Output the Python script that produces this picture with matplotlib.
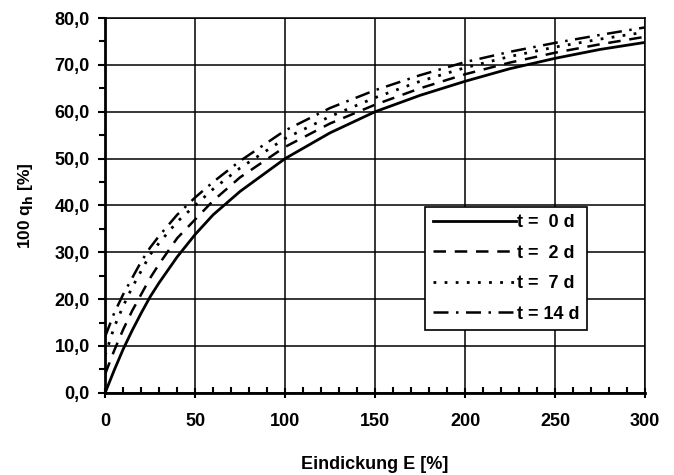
import matplotlib
matplotlib.use("Agg")
import matplotlib.pyplot as plt
from matplotlib.ticker import MultipleLocator, FuncFormatter

plt.rcParams['font.family'] = ['Liberation Sans', 'DejaVu Sans']

E = [0, 5, 10, 15, 20, 25, 30, 40, 50, 60, 75, 100, 125, 150, 175, 200, 225, 250, 275, 300]
q_t0 = [0, 4.8, 9.3, 13.3, 17.0, 20.5, 23.5, 29.0, 33.8, 38.0, 43.0, 50.0, 55.5, 60.0, 63.5, 66.5, 69.2, 71.4, 73.3, 74.8]
q_t2 = [4.0, 9.0, 13.5, 17.5, 21.0, 24.5, 27.5, 33.0, 37.0, 41.0, 46.0, 52.5, 57.5, 61.5, 65.0, 68.0, 70.5, 72.6, 74.4, 76.0]
q_t7 = [8.0, 14.0, 18.5, 22.5, 26.0, 29.5, 32.0, 36.5, 40.0, 43.5, 48.0, 54.3, 59.0, 63.0, 66.5, 69.4, 71.8, 73.8, 75.5, 77.0]
q_t14 = [12.0, 17.0, 21.0, 24.5, 28.0, 31.0, 33.5, 38.0, 41.7, 45.0, 49.5, 56.0, 60.8, 64.6, 67.8, 70.6, 72.8, 74.7, 76.4, 78.0]
labels = ["t =  0 d", "t =  2 d", "t =  7 d", "t = 14 d"]

fig = plt.figure(figsize=(6.74, 4.75), dpi=100)
ax = fig.add_axes([0.156, 0.173, 0.801, 0.789])

styles = [
    dict(linestyle='-', linewidth=2.0),
    dict(linestyle=(0, (5, 3.5)), linewidth=1.8),
    dict(linestyle=(0, (1, 3)), linewidth=2.0),
    dict(linestyle=(0, (6, 3, 1, 3)), linewidth=1.8),
]
for q, lab, st in zip([q_t0, q_t2, q_t7, q_t14], labels, styles):
    ax.plot(E, q, color='black', label=lab, **st)

ax.set_xlim(0, 300)
ax.set_ylim(0, 80)
ax.xaxis.set_major_locator(MultipleLocator(50))
ax.xaxis.set_minor_locator(MultipleLocator(10))
ax.yaxis.set_major_locator(MultipleLocator(10))
ax.yaxis.set_minor_locator(MultipleLocator(5))
ax.yaxis.set_major_formatter(FuncFormatter(lambda v, p: f"{v:.1f}".replace('.', ',')))
ax.grid(True, which='major', color='black', linewidth=1.1)
ax.set_axisbelow(True)

for s in ['top', 'right']:
    ax.spines[s].set_linewidth(1.1)
for s in ['left', 'bottom']:
    ax.spines[s].set_linewidth(2.0)

ax.tick_params(axis='x', which='major', direction='inout', length=7, width=1.5, labelsize=13, pad=11)
ax.tick_params(axis='x', which='minor', direction='in', length=4, width=1.5)
ax.tick_params(axis='y', which='major', direction='out', length=5, width=1.5, labelsize=13, pad=6)
ax.tick_params(axis='y', which='minor', direction='out', length=4, width=1.5)
for t in ax.get_xticklabels() + ax.get_yticklabels():
    t.set_fontweight('bold')

ax.set_xlabel("Eindickung E [%]", fontsize=13, fontweight='bold', labelpad=19)
ax.set_ylabel("100 q$_\\mathbf{h}$ [%]", fontsize=12.5, fontweight='bold', labelpad=14)

leg = ax.legend(loc='upper left', bbox_to_anchor=(0.593, 0.496), borderaxespad=0,
                handlelength=4.6, handletextpad=0.1, fontsize=13, fancybox=False,
                framealpha=1, edgecolor='black', labelspacing=0.75, borderpad=0.4)
leg.get_frame().set_linewidth(1.2)
for t in leg.get_texts():
    t.set_fontweight('bold')

fig.savefig("out.png", dpi=100)
